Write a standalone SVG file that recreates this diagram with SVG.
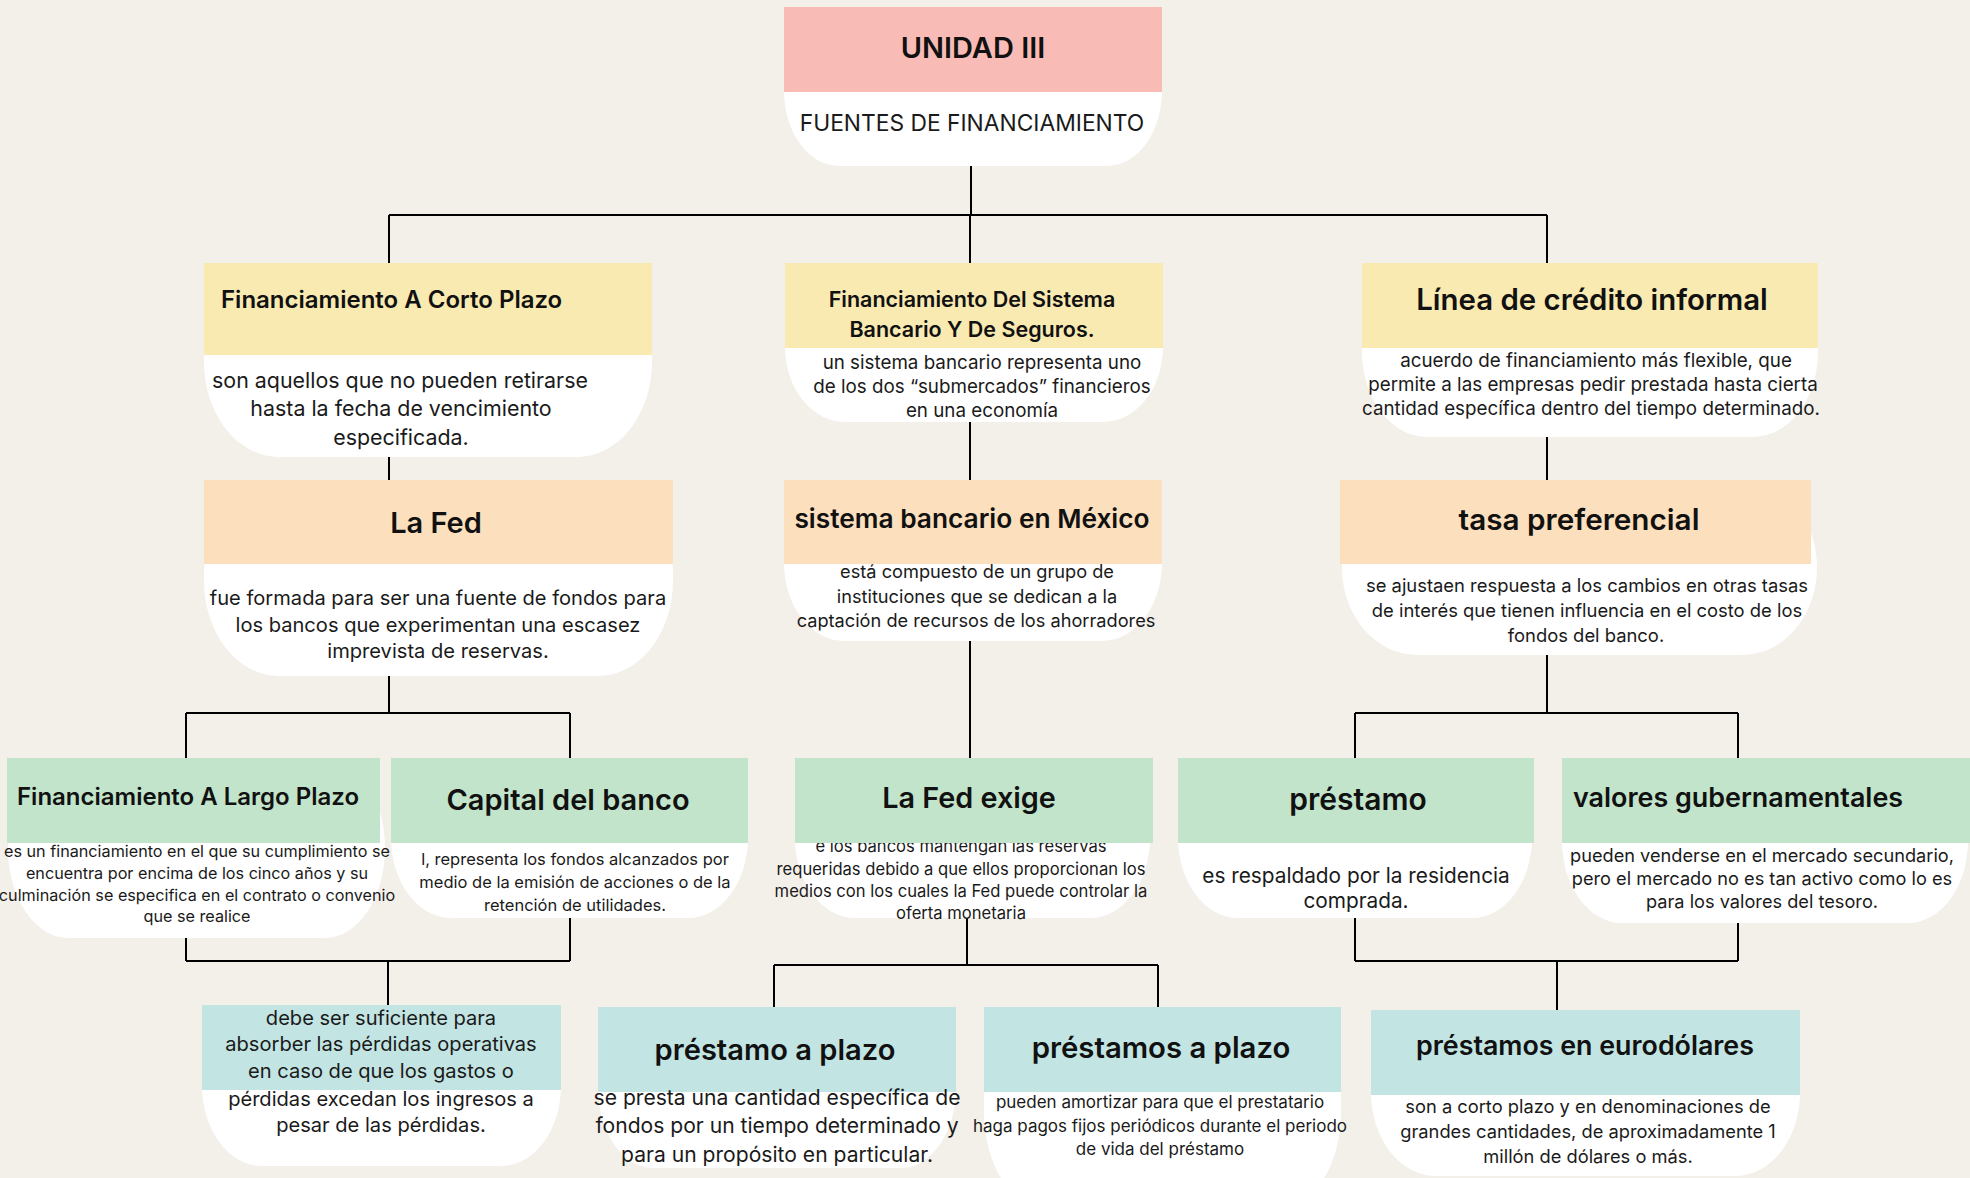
<svg xmlns="http://www.w3.org/2000/svg" width="1970" height="1178" viewBox="0 0 1970 1178">
<style>
.w{fill:#ffffff}
.pk{fill:#F9BBB5}.yl{fill:#F9EAB2}.pc{fill:#FCDFBD}.gr{fill:#C2E4CB}.tl{fill:#C2E4E2}
.t{font-family:Inter,"Noto Sans",sans-serif;font-weight:600;fill:#111}
.b{font-family:Inter,"Noto Sans",sans-serif;font-weight:400;fill:#1a1a1a}
.m{text-anchor:middle}
.c{stroke:#000;stroke-width:2;fill:none}
</style>
<rect width="1970" height="1178" fill="#F3EFE9"/>
<g id="connectors">
<path class="c" d="M971 166V215M389 215H1547M389 215V263M970 215V263M1547 215V263"/>
<path class="c" d="M389 457V480M970 422V480M1547 437V480"/>
<path class="c" d="M389 676V713M186 713H570M186 713V758M570 713V758"/>
<path class="c" d="M970 641V758"/>
<path class="c" d="M1547 655V713M1355 713H1738M1355 713V758M1738 713V758"/>
<path class="c" d="M186 938V961M570 918V961M186 961H570M388 961V1005"/>
<path class="c" d="M967 918V965M774 965H1158M774 965V1007M1158 965V1007"/>
<path class="c" d="M1355 918V961M1738 923V961M1355 961H1738M1557 961V1010"/>
</g>
<g id="n0">
<rect class="w" x="784" y="7" width="378" height="159" rx="55" ry="75"/>
<rect class="pk" x="784" y="7" width="378" height="85"/>
<text class="t m" x="973" y="58" font-size="29" font-weight="700">UNIDAD III</text>
<text class="b m" x="972" y="131" font-size="22.8">FUENTES DE FINANCIAMIENTO</text>
</g>
<g id="n1">
<rect class="w" x="204" y="263" width="448" height="194" rx="75" ry="95"/>
<rect class="yl" x="204" y="263" width="448" height="92"/>
<text class="t" x="221" y="308" font-size="24">Financiamiento A Corto Plazo</text>
<text class="b m" font-size="21.4"><tspan x="400" y="388">son aquellos que no pueden retirarse</tspan><tspan x="401" y="416">hasta la fecha de vencimiento</tspan><tspan x="401" y="445">especificada.</tspan></text>
</g>
<g id="n2">
<rect class="w" x="785" y="263" width="378" height="159" rx="60" ry="75"/>
<text class="b m" font-size="18.8"><tspan x="982" y="369">un sistema bancario representa uno</tspan><tspan x="982" y="393">de los dos “submercados” financieros</tspan><tspan x="982" y="417">en una economía</tspan></text>
<rect class="yl" x="785" y="263" width="378" height="85"/>
<text class="t m" font-size="21.5"><tspan x="972" y="307">Financiamiento Del Sistema</tspan><tspan x="972" y="337">Bancario Y De Seguros.</tspan></text>
</g>
<g id="n3">
<rect class="w" x="1362" y="263" width="456" height="174" rx="65" ry="85"/>
<rect class="yl" x="1362" y="263" width="456" height="85"/>
<text class="t m" x="1592" y="310" font-size="29.4">Línea de crédito informal</text>
<text class="b m" font-size="18.8"><tspan x="1596" y="367">acuerdo de financiamiento más flexible, que</tspan><tspan x="1593" y="391">permite a las empresas pedir prestada hasta cierta</tspan><tspan x="1591" y="415">cantidad específica dentro del tiempo determinado.</tspan></text>
</g>
<g id="n4">
<rect class="w" x="204" y="480" width="469" height="196" rx="75" ry="95"/>
<rect class="pc" x="204" y="480" width="469" height="84"/>
<text class="t m" x="436" y="533" font-size="29">La Fed</text>
<text class="b m" font-size="20.1"><tspan x="438" y="605">fue formada para ser una fuente de fondos para</tspan><tspan x="438" y="632">los bancos que experimentan una escasez</tspan><tspan x="438" y="658">imprevista de reservas.</tspan></text>
</g>
<g id="n5">
<rect class="w" x="784" y="480" width="378" height="161" rx="60" ry="78"/>
<rect class="pc" x="784" y="480" width="378" height="84"/>
<text class="t m" x="972" y="528" font-size="26.3">sistema bancario en México</text>
<text class="b m" font-size="18.2"><tspan x="977" y="578">está compuesto de un grupo de</tspan><tspan x="977" y="603">instituciones que se dedican a la</tspan><tspan x="976" y="627">captación de recursos de los ahorradores</tspan></text>
</g>
<g id="n6">
<rect class="w" x="1342" y="480" width="475" height="175" rx="75" ry="87"/>
<rect class="pc" x="1340" y="480" width="471" height="84"/>
<text class="t m" x="1579" y="530" font-size="29.7">tasa preferencial</text>
<text class="b m" font-size="18.4"><tspan x="1587" y="592">se ajustaen respuesta a los cambios en otras tasas</tspan><tspan x="1587" y="617">de interés que tienen influencia en el costo de los</tspan><tspan x="1586" y="642">fondos del banco.</tspan></text>
</g>
<g id="n7">
<rect class="w" x="8" y="758" width="377" height="180" rx="60" ry="90"/>
<rect class="gr" x="7" y="758" width="373" height="85"/>
<text class="t" x="17" y="805" font-size="24">Financiamiento A Largo Plazo</text>
<text class="b m" font-size="16.2"><tspan x="197" y="857">es un financiamiento en el que su cumplimiento se</tspan><tspan x="197" y="879">encuentra por encima de los cinco años y su</tspan><tspan x="197" y="901">culminación se especifica en el contrato o convenio</tspan><tspan x="197" y="922">que se realice</tspan></text>
</g>
<g id="n8">
<rect class="w" x="391" y="758" width="357" height="160" rx="60" ry="80"/>
<rect class="gr" x="391" y="758" width="357" height="85"/>
<text class="t m" x="568" y="810" font-size="29">Capital del banco</text>
<text class="b m" font-size="16.5"><tspan x="575" y="865">l, representa los fondos alcanzados por</tspan><tspan x="575" y="888">medio de la emisión de acciones o de la</tspan><tspan x="575" y="911">retención de utilidades.</tspan></text>
</g>
<g id="n9">
<rect class="w" x="795" y="758" width="355" height="160" rx="60" ry="80"/>
<text class="b m" font-size="16.6"><tspan x="961" y="852">e los bancos mantengan las reservas</tspan><tspan x="961" y="875">requeridas debido a que ellos proporcionan los</tspan><tspan x="961" y="897">medios con los cuales la Fed puede controlar la</tspan><tspan x="961" y="919">oferta monetaria</tspan></text>
<rect class="gr" x="795" y="758" width="358" height="85"/>
<text class="t m" x="969" y="808" font-size="28.8">La Fed exige</text>
</g>
<g id="n10">
<rect class="w" x="1178" y="758" width="354" height="160" rx="60" ry="80"/>
<rect class="gr" x="1178" y="758" width="356" height="85"/>
<text class="t m" x="1358" y="810" font-size="30">préstamo</text>
<text class="b m" font-size="20.8"><tspan x="1356" y="883">es respaldado por la residencia</tspan><tspan x="1356" y="908">comprada.</tspan></text>
</g>
<g id="n11">
<rect class="w" x="1562" y="758" width="406" height="165" rx="60" ry="82"/>
<rect class="gr" x="1562" y="758" width="408" height="85"/>
<text class="t" x="1573" y="807" font-size="26.9">valores gubernamentales</text>
<text class="b m" font-size="18.2"><tspan x="1762" y="862">pueden venderse en el mercado secundario,</tspan><tspan x="1762" y="885">pero el mercado no es tan activo como lo es</tspan><tspan x="1762" y="908">para los valores del tesoro.</tspan></text>
</g>
<g id="n12">
<rect class="w" x="202" y="1005" width="359" height="161" rx="60" ry="80"/>
<rect class="tl" x="202" y="1005" width="359" height="85"/>
<text class="b m" font-size="20.1"><tspan x="381" y="1025">debe ser suficiente para</tspan><tspan x="381" y="1051">absorber las pérdidas operativas</tspan><tspan x="381" y="1078">en caso de que los gastos o</tspan><tspan x="381" y="1106">pérdidas excedan los ingresos a</tspan><tspan x="381" y="1132">pesar de las pérdidas.</tspan></text>
</g>
<g id="n13">
<rect class="w" x="598" y="1007" width="358" height="161" rx="55" ry="80"/>
<rect class="tl" x="598" y="1007" width="358" height="85"/>
<text class="t m" x="775" y="1060" font-size="29.1">préstamo a plazo</text>
<text class="b m" font-size="21.1"><tspan x="777" y="1105">se presta una cantidad específica de</tspan><tspan x="777" y="1133">fondos por un tiempo determinado y</tspan><tspan x="777" y="1162">para un propósito en particular.</tspan></text>
</g>
<g id="n14">
<rect class="w" x="984" y="1007" width="357" height="200" rx="60" ry="95"/>
<rect class="tl" x="984" y="1007" width="357" height="85"/>
<text class="t m" x="1161" y="1058" font-size="29.3">préstamos a plazo</text>
<text class="b m" font-size="17"><tspan x="1160" y="1108">pueden amortizar para que el prestatario</tspan><tspan x="1160" y="1132">haga pagos fijos periódicos durante el periodo</tspan><tspan x="1160" y="1155">de vida del préstamo</tspan></text>
</g>
<g id="n15">
<rect class="w" x="1371" y="1010" width="429" height="166" rx="65" ry="83"/>
<rect class="tl" x="1371" y="1010" width="429" height="85"/>
<text class="t m" x="1585" y="1055" font-size="26.8">préstamos en eurodólares</text>
<text class="b m" font-size="18.3"><tspan x="1588" y="1113">son a corto plazo y en denominaciones de</tspan><tspan x="1588" y="1138">grandes cantidades, de aproximadamente 1</tspan><tspan x="1588" y="1163">millón de dólares o más.</tspan></text>
</g>
</svg>
